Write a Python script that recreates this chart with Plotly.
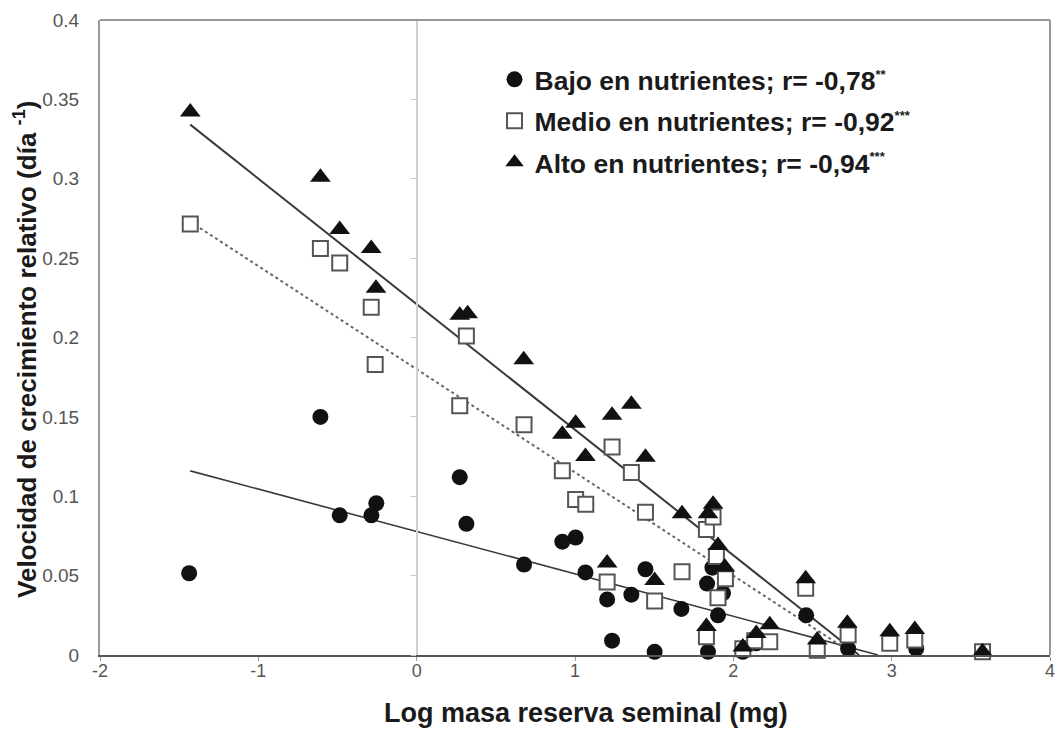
import plotly.graph_objects as go

# ---- Data ----
bajo_x = [-1.437, -0.608, -0.486, -0.286, -0.255, 0.272, 0.314, 0.678, 0.92, 1.004,
          1.066, 1.203, 1.234, 1.356, 1.445, 1.503, 1.672, 1.834, 1.868, 1.935,
          1.903, 1.84, 2.06, 2.145, 2.46, 2.725, 3.155, 3.574]
bajo_y = [0.0515, 0.150, 0.088, 0.088, 0.0956, 0.112, 0.0826, 0.057, 0.0714, 0.074,
          0.052, 0.035, 0.009, 0.038, 0.054, 0.002, 0.029, 0.045, 0.055, 0.039,
          0.025, 0.002, 0.002, 0.0074, 0.025, 0.004, 0.004, 0.002]

medio_x = [-1.43, -0.608, -0.486, -0.287, -0.262, 0.272, 0.314, 0.678, 0.92, 1.004,
           1.068, 1.203, 1.234, 1.356, 1.445, 1.503, 1.676, 1.83, 1.83, 1.872,
           1.893, 1.95, 1.903, 2.06, 2.135, 2.23, 2.457, 2.53, 2.725, 2.988,
           3.146, 3.574]
medio_y = [0.2715, 0.256, 0.247, 0.219, 0.183, 0.157, 0.201, 0.145, 0.116, 0.098,
           0.095, 0.046, 0.131, 0.115, 0.090, 0.034, 0.0525, 0.0115, 0.079, 0.087,
           0.062, 0.048, 0.036, 0.004, 0.009, 0.0084, 0.042, 0.003, 0.0126, 0.0074,
           0.0095, 0.002]

alto_x = [-1.43, -0.608, -0.486, -0.287, -0.257, 0.272, 0.322, 0.676, 0.92, 1.004,
          1.066, 1.203, 1.234, 1.356, 1.445, 1.503, 1.676, 1.84, 1.872, 1.903,
          1.946, 1.83, 2.06, 2.145, 2.23, 2.457, 2.53, 2.72, 2.988, 3.146, 3.574]
alto_y = [0.342, 0.301, 0.268, 0.256, 0.231, 0.214, 0.215, 0.186, 0.139, 0.146,
          0.125, 0.058, 0.151, 0.158, 0.1245, 0.047, 0.089, 0.089, 0.095, 0.069,
          0.0555, 0.018, 0.005, 0.0135, 0.019, 0.048, 0.0095, 0.020, 0.0147, 0.016,
          0.002]

# regression lines (slope, intercept), drawn from first x until they reach y = 0
fit_names = ["bajo", "medio", "alto"]
fit_slope = [-0.0267, -0.065, -0.0791]
fit_intercept = [0.0778, 0.180, 0.221]
fit_x_start = [-1.43, -1.40, -1.43]
fit_x_end_max = [3.574, 3.574, 3.574]

SUP = '<sup><span style="font-size:13px">{}</span></sup>'
legend_labels = [
    "Bajo en nutrientes; r= -0,78" + SUP.format("**"),
    "Medio en nutrientes; r= -0,92" + SUP.format("***"),
    "Alto en nutrientes; r= -0,94" + SUP.format("***"),
]

x_ticks = [-2, -1, 0, 1, 2, 3, 4]
y_ticks = [0, 0.05, 0.1, 0.15, 0.2, 0.25, 0.3, 0.35, 0.4]
y_ticktext = ["0", "0.05", "0.1", "0.15", "0.2", "0.25", "0.3", "0.35", "0.4"]

x_title = "<b>Log masa reserva seminal (mg)</b>"
y_title = "<b>Velocidad de crecimiento relativo (día <sup>-1</sup>)</b>"

FONT = "Liberation Sans, Arial, sans-serif"

fig = go.Figure()

# regression lines
line_styles = [
    dict(color="#3a3a3a", width=1.6, dash="solid"),
    dict(color="#666666", width=2.0, dash="dot"),
    dict(color="#3a3a3a", width=2.0, dash="solid"),
]
for m, b, x0, xm, st in zip(fit_slope, fit_intercept, fit_x_start, fit_x_end_max, line_styles):
    x1 = min(xm, -b / m)
    fig.add_trace(go.Scatter(x=[x0, x1], y=[m * x0 + b, m * x1 + b], mode="lines",
                             line=st, showlegend=False, hoverinfo="skip",
                             cliponaxis=False))

# markers
fig.add_trace(go.Scatter(x=bajo_x, y=bajo_y, mode="markers", name=legend_labels[0],
                         marker=dict(symbol="circle", size=16, color="#111111",
                                     line=dict(width=0)),
                         cliponaxis=False, legendgroup="a"))
fig.add_trace(go.Scatter(x=medio_x, y=medio_y, mode="markers", name=legend_labels[1],
                         marker=dict(symbol="square", size=15, color="white",
                                     line=dict(width=2, color="#555555")),
                         cliponaxis=False, legendgroup="b"))
fig.add_trace(go.Scatter(x=alto_x, y=alto_y, mode="markers", name=legend_labels[2],
                         marker=dict(symbol="triangle-up", size=18, color="#111111",
                                     line=dict(width=0)),
                         cliponaxis=False, legendgroup="c"))

fig.update_layout(
    width=1058, height=738,
    margin=dict(l=100, r=8, t=20, b=83),
    paper_bgcolor="white", plot_bgcolor="white",
    font=dict(family=FONT, color="#222222"),
    showlegend=True,
    legend=dict(x=0.4153, y=0.944, xanchor="left", yanchor="top",
                bgcolor="rgba(0,0,0,0)",
                font=dict(family=FONT, size=26.5, color="#1a1a1a", weight="bold"),
                traceorder="grouped", tracegroupgap=4, itemwidth=30),
    xaxis=dict(range=[-2, 4], tickvals=x_ticks, ticktext=[str(v) for v in x_ticks],
               automargin=False,
               showgrid=False, zeroline=False,
               showline=True, linecolor="#555555", linewidth=2,
               mirror=False, ticks="outside", ticklen=4, tickcolor="#999999",
               ticklabelstandoff=-6,
               tickfont=dict(family=FONT, size=18, color="#555555")),
    yaxis=dict(range=[0, 0.4], tickvals=y_ticks, ticktext=y_ticktext,
               automargin=False,
               showgrid=False, zeroline=False,
               showline=True, linecolor="#999999", linewidth=2, mirror=False,
               ticks="", ticklabelstandoff=15,
               tickfont=dict(family=FONT, size=19, color="#555555")),
    # secondary axis used only to draw the vertical line at x = 0 with its tick marks
    yaxis2=dict(range=[0, 0.4], tickvals=y_ticks, overlaying="y", anchor="free",
                position=(0 - (-2)) / (4 - (-2)), side="left", automargin=False,
                showticklabels=False, showgrid=False, zeroline=False,
                showline=True, linecolor="#d0d0d0", linewidth=1.5,
                ticks="outside", ticklen=5, tickcolor="#c8c8c8"),
    shapes=[
        dict(type="line", xref="paper", yref="paper", x0=0, x1=1, y0=1, y1=1,
             line=dict(color="#999999", width=2)),
        dict(type="line", xref="paper", yref="paper", x0=1, x1=1, y0=0, y1=1,
             line=dict(color="#999999", width=2)),
    ],
    annotations=[
        dict(text=x_title, xref="paper", yref="paper", x=0.5115, y=-0.0913,
             xanchor="center", yanchor="middle", showarrow=False,
             font=dict(family=FONT, size=27, color="#1a1a1a")),
        dict(text=y_title, xref="paper", yref="paper", x=-0.0779, y=0.482,
             xanchor="center", yanchor="middle", textangle=-90, showarrow=False,
             font=dict(family=FONT, size=26, color="#1a1a1a")),
    ],
)

# dummy trace to activate yaxis2
fig.add_trace(go.Scatter(x=[None], y=[None], yaxis="y2", showlegend=False, hoverinfo="skip"))

# remove the browser's default 8px body margin so the figure sits at the page origin
fig.write_html("out.html", config={"displayModeBar": False},
               post_script="document.body.style.margin='0';document.body.style.overflow='hidden';")
